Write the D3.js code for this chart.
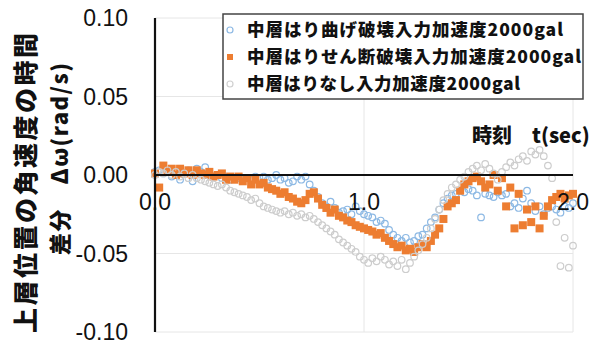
<!DOCTYPE html>
<html>
<head>
<meta charset="utf-8">
<script src="https://cdn.jsdelivr.net/npm/d3@7"></script>
<style>
  html, body { margin: 0; padding: 0; background: #fff; }
  svg { display: block; }
</style>
</head>
<body>
<svg id="chart" width="603" height="347"></svg>
<script>
// time axis (sec), 0.02 s step
const times = d3.range(0, 101).map(i => +(i * 0.02).toFixed(2));

// 中層はり曲げ破壊 (bending failure)
const bendValues = [
  0.002, 0.003, 0.001, 0.002, -0.001, 0.000, -0.003, 0.001, 0.003, -0.004,
  0.004, 0.002, 0.005, 0.001, -0.001, 0.000, -0.002, -0.001, -0.003, -0.002,
  -0.002, -0.003, -0.002, -0.003, -0.001, -0.002, -0.001, -0.003, -0.002, 0.000,
  -0.003, -0.002, -0.005, -0.004, -0.001, -0.003, -0.001, -0.006, -0.010, -0.014,
  -0.018, -0.020, -0.017, -0.021, -0.024, -0.023, -0.022, -0.025, -0.020, -0.023,
  -0.025, -0.026, -0.027, -0.030, -0.029, -0.031, -0.035, -0.038, -0.040, -0.042,
  -0.040, -0.043, -0.042, -0.039, -0.038, -0.034, -0.030, -0.027, -0.022, -0.018,
  -0.015, -0.013, -0.012, -0.010, -0.011, -0.009, -0.010, -0.013, -0.027, -0.012,
  -0.013, -0.014, -0.011, -0.013, -0.012, -0.020, -0.018, -0.021, -0.015, -0.010,
  -0.018, -0.023, -0.020, -0.025, -0.021, -0.020, -0.022, -0.024, -0.020, -0.021,
  -0.018
];

// 中層はりせん断破壊 (shear failure)
const shearValues = [
  0.001, -0.008, 0.006, 0.002, 0.004, 0.000, 0.004, 0.001, 0.003, 0.000,
  0.003, 0.001, 0.000, 0.002, -0.001, 0.000, 0.001, -0.003, -0.001, -0.003,
  -0.001, -0.004, -0.002, -0.006, -0.003, -0.006, -0.005, -0.008, -0.009, -0.010,
  -0.012, -0.011, -0.014, -0.015, -0.017, -0.018, -0.016, -0.012, -0.011, -0.015,
  -0.019, -0.021, -0.024, -0.022, -0.026, -0.027, -0.029, -0.030, -0.032, -0.033,
  -0.034, -0.035, -0.036, -0.038, -0.037, -0.040, -0.042, -0.044, -0.046, -0.045,
  -0.048, -0.047, -0.049, -0.046, -0.044, -0.046, -0.042, -0.038, -0.034, -0.028,
  -0.020, -0.018, -0.016, -0.010, -0.006, -0.004, -0.002, -0.001, -0.004, -0.008,
  -0.006, 0.000, -0.010, -0.002, -0.020, -0.008, -0.034, -0.012, -0.032, -0.022,
  -0.030, -0.020, -0.034, -0.026, -0.020, -0.016, -0.014, -0.012, -0.015, -0.013,
  -0.012
];

// 中層はりなし (no middle beam)
const noBeamValues = [
  0.000, 0.002, 0.001, 0.003, 0.000, 0.002, -0.001, 0.001, -0.002, 0.000,
  -0.002, -0.003, -0.004, -0.005, -0.006, -0.007, -0.006, -0.008, -0.010, -0.011,
  -0.012, -0.013, -0.014, -0.016, -0.015, -0.018, -0.020, -0.021, -0.022, -0.023,
  -0.024, -0.023, -0.025, -0.024, -0.026, -0.025, -0.027, -0.026, -0.028, -0.030,
  -0.032, -0.034, -0.036, -0.038, -0.041, -0.043, -0.045, -0.047, -0.049, -0.052,
  -0.054, -0.056, -0.053, -0.055, -0.052, -0.054, -0.057, -0.055, -0.058, -0.054,
  -0.060, -0.056, -0.052, -0.048, -0.044, -0.040, -0.034, -0.028, -0.022, -0.016,
  -0.012, -0.008, -0.006, -0.003, -0.001, 0.002, 0.004, 0.006, 0.003, 0.007,
  0.004, 0.001, -0.003, 0.002, 0.005, 0.008, 0.006, 0.010, 0.012, 0.009,
  0.015, 0.013, 0.016, 0.012, 0.006, -0.002, -0.030, -0.058, -0.040, -0.059,
  -0.045
];

const seriesNames = [
  "中層はり曲げ破壊入力加速度2000gal",
  "中層はりせん断破壊入力加速度2000gal",
  "中層はりなし入力加速度2000gal"
];
const yTicks = [0.10, 0.05, 0.00, -0.05, -0.10];
const yTickLabels = ["0.10", "0.05", "0.00", "-0.05", "-0.10"];
const xTicks = [0.0, 1.0, 2.0];
const xTickLabels = ["0.0", "1.0", "2.0"];
const yTitleLines = ["上層位置の角速度の時間", "差分　Δω(rad/s)"];
const xTitle = "時刻　t(sec)";

const svg = d3.select("#chart");
const x = d3.scaleLinear().domain([0, 2]).range([155, 573]);
const y = d3.scaleLinear().domain([-0.1, 0.1]).range([332, 18]);

const jp = "'Noto Sans CJK JP', 'Noto Sans', sans-serif";
const num = "'Liberation Sans', Arial, sans-serif";

// light gridlines
svg.append("g").selectAll("line").data(yTicks.filter(v => v !== 0)).join("line")
  .attr("x1", x(0)).attr("x2", x(2))
  .attr("y1", d => y(d)).attr("y2", d => y(d))
  .attr("stroke", "#e6e6e6").attr("stroke-width", 1);
svg.append("g").selectAll("line").data([1.0, 2.0]).join("line")
  .attr("x1", d => x(d)).attr("x2", d => x(d))
  .attr("y1", y(0.1)).attr("y2", y(-0.1))
  .attr("stroke", "#e6e6e6").attr("stroke-width", 1);

// y-axis tick labels
svg.append("g").selectAll("text").data(yTicks).join("text")
  .attr("x", 128).attr("y", d => y(d))
  .attr("dy", "0.35em")
  .attr("text-anchor", "end")
  .style("font-family", num).style("font-size", "23px").attr("fill", "#111")
  .text((d, i) => yTickLabels[i]);

// y-axis title (two rotated lines)
svg.append("text")
  .attr("transform", `translate(24,${183}) rotate(-90)`)
  .attr("text-anchor", "middle").attr("dominant-baseline", "central")
  .attr("textLength", 300).attr("lengthAdjust", "spacing")
  .style("font-family", jp).style("font-size", "25px").style("font-weight", "900")
  .attr("fill", "#111")
  .text(yTitleLines[0]);
svg.append("text")
  .attr("transform", `translate(58,${159}) rotate(-90)`)
  .attr("text-anchor", "middle").attr("dominant-baseline", "central")
  .attr("textLength", 192).attr("lengthAdjust", "spacing")
  .style("font-family", jp).style("font-size", "22px").style("font-weight", "900")
  .attr("fill", "#111")
  .text(yTitleLines[1]);

// series markers
const blue = times.map((t, i) => ({ t, v: bendValues[i] }));
const orange = times.map((t, i) => ({ t, v: shearValues[i] }));
const gray = times.map((t, i) => ({ t, v: noBeamValues[i] }));

svg.append("g").selectAll("circle").data(blue).join("circle")
  .attr("cx", d => x(d.t)).attr("cy", d => y(d.v)).attr("r", 3.3)
  .attr("fill", "none").attr("stroke", "#8db9e4").attr("stroke-width", 1.2);

svg.append("g").selectAll("rect").data(orange).join("rect")
  .attr("x", d => x(d.t) - 4).attr("y", d => y(d.v) - 4)
  .attr("width", 8).attr("height", 8)
  .attr("fill", "#ed7d31");

svg.append("g").selectAll("circle").data(gray).join("circle")
  .attr("cx", d => x(d.t)).attr("cy", d => y(d.v)).attr("r", 3.3)
  .attr("fill", "none").attr("stroke", "#cdcdcd").attr("stroke-width", 1.2);

// axes: vertical axis at t=0 and horizontal zero line
svg.append("line")
  .attr("x1", x(0)).attr("x2", x(0)).attr("y1", y(0.1)).attr("y2", y(-0.1))
  .attr("stroke", "#111").attr("stroke-width", 2.2);
svg.append("line")
  .attr("x1", x(0)).attr("x2", x(2)).attr("y1", y(0)).attr("y2", y(0))
  .attr("stroke", "#111").attr("stroke-width", 2.2);

// x-axis tick labels below the zero line
svg.append("g").selectAll("text").data(xTicks).join("text")
  .attr("x", d => x(d)).attr("y", 210)
  .attr("text-anchor", "middle")
  .style("font-family", num).style("font-size", "23px").attr("fill", "#111")
  .text((d, i) => xTickLabels[i]);

// x-axis title
svg.append("text")
  .attr("x", 472).attr("y", 143)
  .style("font-family", jp).style("font-size", "20px").style("font-weight", "900")
  .attr("fill", "#111")
  .text(xTitle);

// legend
const lg = svg.append("g");
lg.append("rect")
  .attr("x", 223).attr("y", 14).attr("width", 360).attr("height", 85)
  .attr("fill", "#fff").attr("stroke", "#444").attr("stroke-width", 1.5);
const rowY = [30, 57, 84];
const textLen = [316, 334, 273];
seriesNames.forEach((name, i) => {
  lg.append("text")
    .attr("x", 247).attr("y", rowY[i]).attr("dy", "0.36em")
    .attr("textLength", textLen[i]).attr("lengthAdjust", "spacing")
    .style("font-family", jp).style("font-size", "17.5px").style("font-weight", "900")
    .attr("fill", "#111")
    .text(name);
});
lg.append("circle").attr("cx", 230).attr("cy", rowY[0]).attr("r", 3)
  .attr("fill", "none").attr("stroke", "#8db9e4").attr("stroke-width", 1.2);
lg.append("rect").attr("x", 227).attr("y", rowY[1] - 3).attr("width", 6).attr("height", 6)
  .attr("fill", "#ed7d31");
lg.append("circle").attr("cx", 230).attr("cy", rowY[2]).attr("r", 3)
  .attr("fill", "none").attr("stroke", "#d0d0d0").attr("stroke-width", 1.2);
</script>
</body>
</html>
